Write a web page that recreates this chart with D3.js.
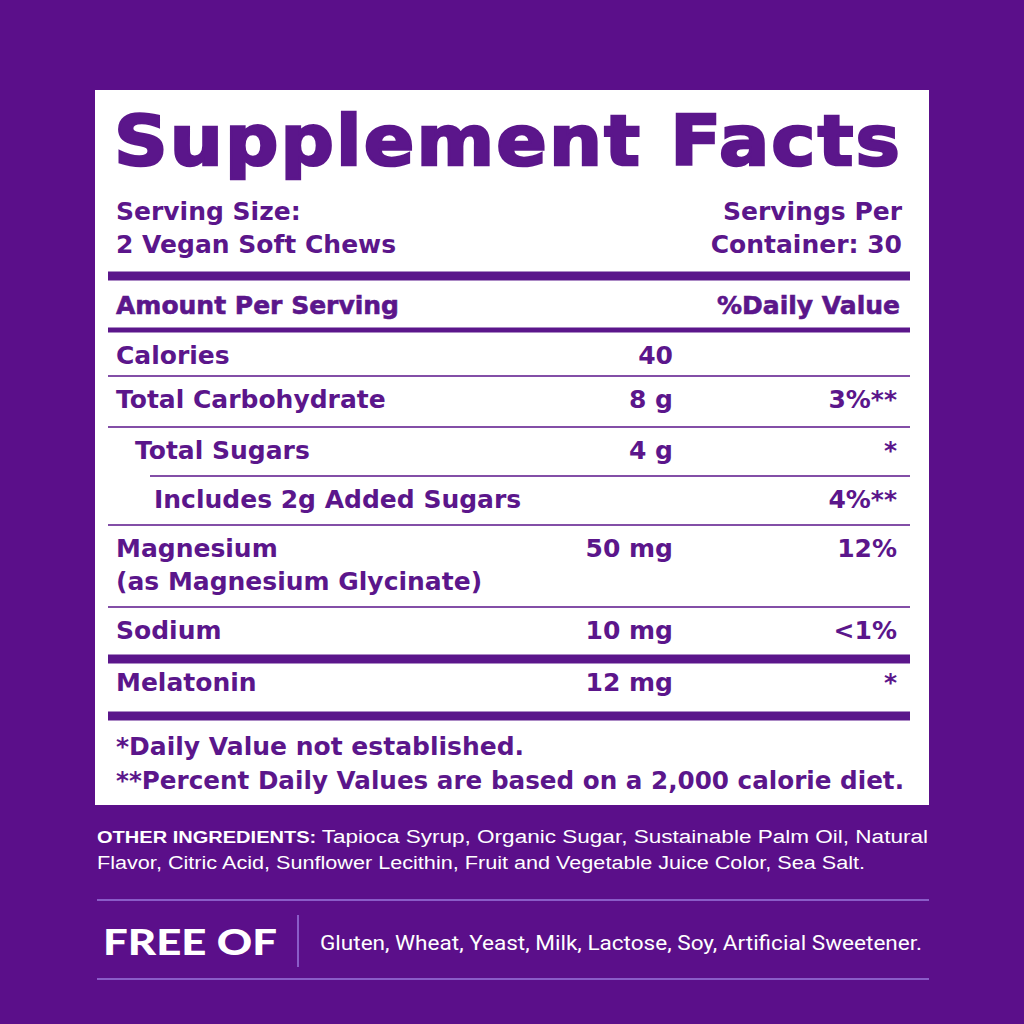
<!DOCTYPE html>
<html><head><meta charset="utf-8">
<script src="https://cdn.jsdelivr.net/npm/d3@7"></script>
<style>body{margin:0;background:#5b0f8a}</style>
</head><body><div id="label"></div>
<script>
const nutrients = ['Calories', 'Total Carbohydrate', 'Total Sugars', 'Includes 2g Added Sugars', 'Magnesium', 'Sodium', 'Melatonin'];
const subNotes = ['', '', '', '', '(as Magnesium Glycinate)', '', ''];
const amounts = ['40', '8 g', '4 g', '', '50 mg', '10 mg', '12 mg'];
const dailyValues = ['', '3%**', '*', '4%**', '12%', '<1%', '*'];
const indents = [0, 0, 1, 2, 0, 0, 0];
const rowBottoms = [376, 427, 476, 525, 607, 659, 716];
const freeOf = 'Gluten, Wheat, Yeast, Milk, Lactose, Soy, Artificial Sweetener.';

const purple = '#5b168b';
const W = 1024, H = 1024;
const svg = d3.select('#label').append('svg').attr('width', W).attr('height', H)
  .style('font-family', '"DejaVu Sans", sans-serif');
svg.append('rect').attr('width', W).attr('height', H).attr('fill', '#5b0f8a');
svg.append('rect').attr('x', 95).attr('y', 90).attr('width', 834).attr('height', 715).attr('fill', '#fff');

const txt = (x, y, s, size, anchor = 'start', weight = 700, fill = purple) =>
  svg.append('text').attr('x', x).attr('y', y).attr('font-size', size)
    .attr('font-weight', weight).attr('text-anchor', anchor).attr('fill', fill).text(s);
const bar = (y, h, x0 = 108, x1 = 910, fill = purple) =>
  svg.append('rect').attr('x', x0).attr('y', y - h / 2).attr('width', x1 - x0).attr('height', h).attr('fill', fill);

txt(114, 165, 'Supplement Facts', 70, 'start', 900).attr('letter-spacing', 2)
  .attr('stroke', purple).attr('stroke-width', 2.5)
  .attr('textLength', 788).attr('lengthAdjust', 'spacingAndGlyphs');
txt(116, 220, 'Serving Size:', 25);
txt(116, 253, '2 Vegan Soft Chews', 25);
txt(902, 220, 'Servings Per', 25, 'end');
txt(902, 253, 'Container: 30', 25, 'end');
bar(276, 9);
txt(116, 314, 'Amount Per Serving', 25, 'start', 900).attr('stroke', purple).attr('stroke-width', 0.6);
txt(900, 314, '%Daily Value', 25, 'end', 900).attr('stroke', purple).attr('stroke-width', 0.6);
bar(330, 5);

const rows = svg.append('g').selectAll('g').data(nutrients).join('g');
rows.each(function (d, i) {
  const top = i === 0 ? 332 : rowBottoms[i - 1];
  const base = top + 32;
  const g = d3.select(this);
  const t = (x, yy, s, anchor) => g.append('text').attr('x', x).attr('y', yy).attr('font-size', 25)
    .attr('font-weight', 700).attr('text-anchor', anchor).attr('fill', purple).text(s);
  t(116 + indents[i] * 19, base, d, 'start');
  if (subNotes[i]) t(116, base + 33, subNotes[i], 'start');
  t(673, base, amounts[i], 'end');
  t(897, base, dailyValues[i], 'end');
  const b = rowBottoms[i];
  if (i === 5 || i === 6) bar(b, 9);
  else bar(b, 1.5, i === 2 ? 150 : 108);
});

txt(116, 755, '*Daily Value not established.', 25);
txt(116, 789, '**Percent Daily Values are based on a 2,000 calorie diet.', 25)
  .attr('textLength', 788).attr('lengthAdjust', 'spacingAndGlyphs');

const ing = svg.append('text').attr('x', 97).attr('y', 843).attr('font-size', 18).attr('fill', '#fff')
  .attr('font-family', '"Liberation Sans", Arial, sans-serif')
  .attr('textLength', 831).attr('lengthAdjust', 'spacingAndGlyphs');
ing.append('tspan').attr('font-weight', 700).attr('font-size', 16).text('OTHER INGREDIENTS: ');
ing.append('tspan').text('Tapioca Syrup, Organic Sugar, Sustainable Palm Oil, Natural');
txt(97, 869, 'Flavor, Citric Acid, Sunflower Lecithin, Fruit and Vegetable Juice Color, Sea Salt.', 18, 'start', 400, '#fff')
  .attr('font-family', '"Liberation Sans", Arial, sans-serif')
  .attr('textLength', 768).attr('lengthAdjust', 'spacingAndGlyphs');

bar(900, 2, 97, 929, '#8a5cc8');
bar(979, 2, 97, 929, '#8a5cc8');
svg.append('rect').attr('x', 297).attr('y', 915).attr('width', 2).attr('height', 52).attr('fill', '#8a5cc8');
txt(103, 955, 'FREE OF', 36, 'start', 900, '#fff').attr('font-family', 'Lato')
  .attr('textLength', 174).attr('lengthAdjust', 'spacingAndGlyphs');
txt(320, 950, freeOf, 21, 'start', 400, '#fff').attr('font-family', '"Roboto"')
  .attr('textLength', 602).attr('lengthAdjust', 'spacingAndGlyphs');
</script></body></html>
